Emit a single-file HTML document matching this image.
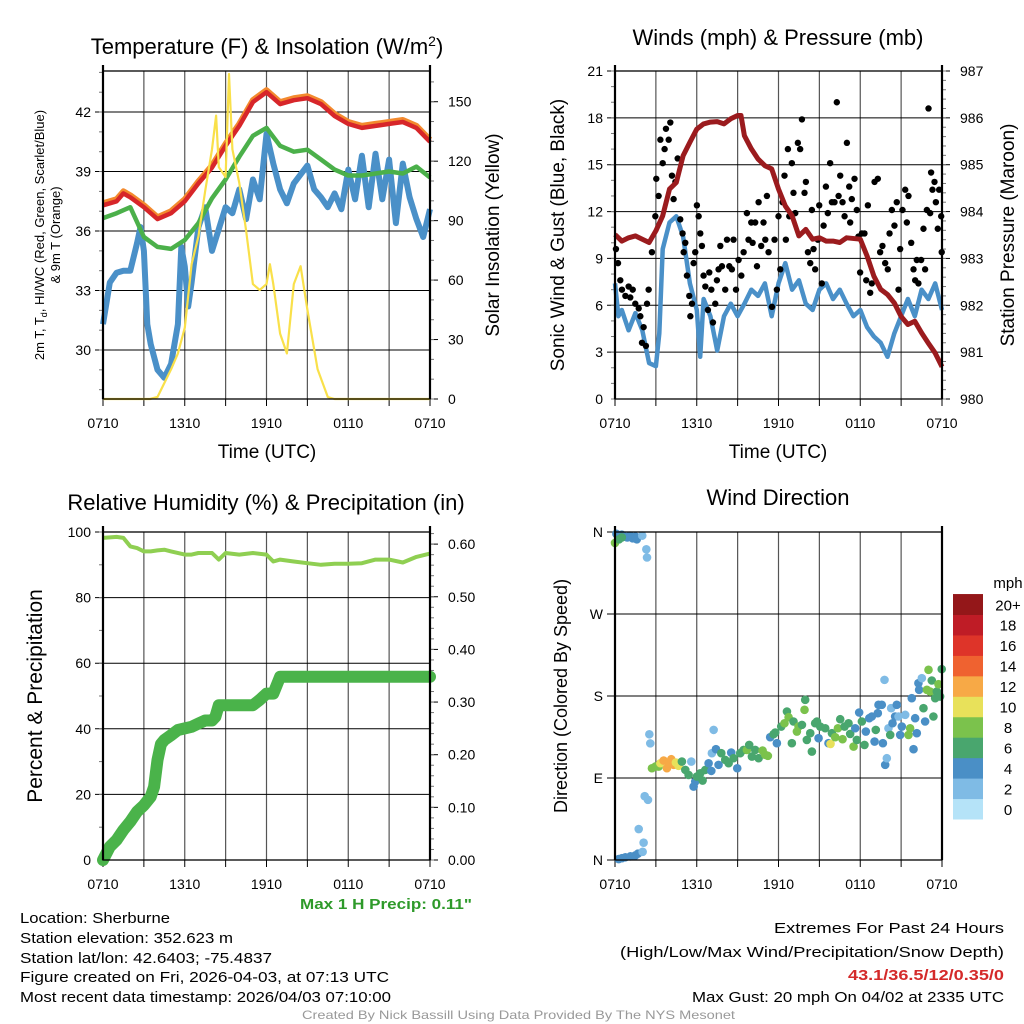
<!DOCTYPE html>
<html><head><meta charset="utf-8"><style>
html,body{margin:0;padding:0;background:#fff}
svg{display:block;font-family:"Liberation Sans",sans-serif}
</style></head><body>
<svg id="chart" width="1024" height="1024" viewBox="0 0 1024 1024" xmlns="http://www.w3.org/2000/svg">
<rect width="1024" height="1024" fill="#fff"/>
<g id="layer"></g>
<text x="267" y="54" font-size="22" text-anchor="middle">Temperature (F) &amp; Insolation (W/m<tspan dy="-8" font-size="14">2</tspan><tspan dy="8">)</tspan></text>
<text x="778" y="45" font-size="22" text-anchor="middle">Winds (mph) &amp; Pressure (mb)</text>
<text x="266" y="510" font-size="22" text-anchor="middle">Relative Humidity (%) &amp; Precipitation (in)</text>
<text x="778" y="505" font-size="22" text-anchor="middle">Wind Direction</text>
<text transform="translate(44,235) rotate(-90)" font-size="13" text-anchor="middle">2m T, T<tspan font-size="9" dy="3">d</tspan><tspan dy="-3">, HI/WC (Red, Green, Scarlet/Blue)</tspan></text>
<text transform="translate(60,235) rotate(-90)" font-size="13" text-anchor="middle">&amp; 9m T (Orange)</text>
<text transform="translate(499,235) rotate(-90)" font-size="19" text-anchor="middle">Solar Insolation (Yellow)</text>
<text transform="translate(564,235) rotate(-90)" font-size="19" text-anchor="middle">Sonic Wind &amp; Gust (Blue, Black)</text>
<text transform="translate(1014,235) rotate(-90)" font-size="19" text-anchor="middle">Station Pressure (Maroon)</text>
<text transform="translate(42,696) rotate(-90)" font-size="21" text-anchor="middle">Percent &amp; Precipitation</text>
<text transform="translate(567,696) rotate(-90)" font-size="18" text-anchor="middle">Direction (Colored By Speed)</text>
<text x="267" y="458" font-size="19" text-anchor="middle">Time (UTC)</text>
<text x="778" y="458" font-size="19" text-anchor="middle">Time (UTC)</text>
<text x="300" y="909" font-size="15" font-weight="bold" fill="#2e9a2a" textLength="172" lengthAdjust="spacingAndGlyphs">Max 1 H Precip: 0.11"</text>
<g font-size="15">
<text x="20" y="923" textLength="150" lengthAdjust="spacingAndGlyphs">Location: Sherburne</text>
<text x="20" y="943" textLength="213" lengthAdjust="spacingAndGlyphs">Station elevation: 352.623 m</text>
<text x="20" y="963" textLength="252" lengthAdjust="spacingAndGlyphs">Station lat/lon: 42.6403; -75.4837</text>
<text x="20" y="982" textLength="369" lengthAdjust="spacingAndGlyphs">Figure created on Fri, 2026-04-03, at 07:13 UTC</text>
<text x="20" y="1002" textLength="371" lengthAdjust="spacingAndGlyphs">Most recent data timestamp: 2026/04/03 07:10:00</text>
</g>
<g font-size="15">
<text x="774" y="933" textLength="230" lengthAdjust="spacingAndGlyphs">Extremes For Past 24 Hours</text>
<text x="620" y="957" textLength="384" lengthAdjust="spacingAndGlyphs">(High/Low/Max Wind/Precipitation/Snow Depth)</text>
<text x="848" y="980" fill="#d42a2a" font-weight="bold" textLength="156" lengthAdjust="spacingAndGlyphs">43.1/36.5/12/0.35/0</text>
<text x="692" y="1002" textLength="312" lengthAdjust="spacingAndGlyphs">Max Gust: 20 mph On 04/02 at 2335 UTC</text>
</g>
<text x="302" y="1019" font-size="12" fill="#999" textLength="433" lengthAdjust="spacingAndGlyphs">Created By Nick Bassill Using Data Provided By The NYS Mesonet</text>
</svg>
<script>
// ---- Panel 1 data ----
const tempHours = [0,1,1.5,2,3,4,5,6,7,8,9,10,11,12,13,14,15,16,17,18,19,20,21,22,23,24];
const tempRed = [37.3,37.5,37.9,37.7,37.2,36.6,36.9,37.5,38.4,39.2,40.3,41.3,42.5,43.0,42.4,42.6,42.7,42.4,41.8,41.4,41.2,41.3,41.4,41.5,41.2,40.5];
const tempOrange = [37.4,37.6,38.0,37.8,37.3,36.7,37.0,37.6,38.5,39.3,40.4,41.4,42.6,43.1,42.5,42.7,42.8,42.5,41.9,41.5,41.3,41.4,41.5,41.6,41.3,40.6];
const dewHours = [0,1,2,3,4,5,6,7,8,9,10,11,12,13,14,15,16,17,18,19,20,21,22,23,24];
const dewGreen = [36.65,36.9,37.2,35.7,35.2,35.1,35.55,36.4,37.65,38.6,39.75,40.8,41.2,40.3,40.0,40.1,39.6,39.1,38.8,38.8,38.9,39.0,38.9,39.25,38.7];
const hiHours = [0,0.5,1,1.5,2,2.5,2.75,3,3.25,3.5,4,4.5,5,5.5,5.75,6,6.25,6.5,7,7.5,8,8.5,9,9.5,10,10.5,11,11.5,12,12.5,13,13.5,14,15,15.5,16,16.5,17,17.5,18,18.5,19,19.5,20,20.5,21,21.5,22,22.5,23,23.5,24];
const hiBlue = [31.3,33.4,33.9,34.0,34.0,35.4,36.2,35.0,31.3,30.3,29.0,28.6,29.3,31.3,35.2,34.2,32.2,33.4,36.2,37.2,35.0,36.1,37.2,36.9,38.1,36.6,38.6,37.6,40.9,39.4,38.1,37.4,38.4,39.3,38.1,37.7,37.2,37.9,37.1,39.1,37.6,39.8,37.2,39.9,37.6,39.6,36.4,39.4,37.7,36.6,35.7,37.1];
const solarHours = [0,3.45,4,4.5,5,5.5,6,6.5,7,7.5,8,8.3,8.5,9,9.25,9.5,10,10.5,11,11.5,12,12.25,12.5,13,13.5,14,14.5,15,15.5,15.75,16.5,17,24];
const solarYellow = [0,0,1,8,15,23,36,68,82,105,126,143,117,112,164,126,109,85,58,55,58,68,58,33,23,58,67,45,25,15,1,0,0];
const tempTicks = [30,33,36,39,42];
const solarTicks = [0,30,60,90,120,150];
const timeTickLabels = ["0710","1310","1910","0110","0710"];
// ---- Panel 2 data ----
const presHours = [0,0.5,1,1.5,2,2.5,3,3.5,4,4.5,5,5.5,6,6.5,7,7.5,8,8.5,9,9.25,9.5,10,10.5,11,11.5,12,12.5,13,13.5,14,14.5,15,15.5,16,16.5,17,18,18.5,19,19.5,20,20.5,21,21.5,22,22.5,23,23.5,24];
const presMaroon = [983.51,983.37,983.44,983.48,983.41,983.34,983.59,983.91,984.48,984.62,985.19,985.48,985.76,985.87,985.91,985.92,985.87,985.98,986.05,986.05,985.62,985.34,985.12,984.98,984.91,984.48,984.12,983.91,983.48,983.62,983.41,983.44,983.37,983.37,983.34,983.44,983.41,983.05,982.62,982.34,982.23,982.05,981.76,981.59,981.66,981.41,981.19,980.98,980.69];
const windHours = [0,0.25,0.5,1,1.5,2,2.5,3,3.25,3.5,4,4.5,5,5.5,6,6.25,6.5,7,7.5,8,8.5,9,9.5,10,10.5,11,11.5,12,12.5,13,13.5,14,14.5,15,15.5,16,16.5,17,17.5,18,18.5,19,19.5,20,20.5,21,21.5,22,22.5,23,23.5,24];
const windBlue = [7.4,5.3,5.7,4.4,5.5,4.4,2.3,2.1,4.2,9.6,11.3,11.7,10.4,7.4,5.7,2.7,6.4,5.3,3.1,5.3,6.1,5.3,6.1,7.0,6.6,7.4,5.3,7.4,8.7,7.0,7.6,6.1,5.7,7.0,7.4,6.4,7.0,6.1,5.3,5.7,4.6,4.0,3.6,2.7,4.2,5.3,6.4,5.3,7.0,6.4,7.4,5.7];
const gustHours = [0.07,0.22,0.39,0.51,0.76,1.0,1.12,1.3,1.49,1.74,1.86,1.98,2.1,2.27,2.35,2.47,2.71,2.96,3.03,3.2,3.33,3.5,3.64,3.74,3.94,4.06,4.18,4.3,4.43,4.6,4.79,4.96,5.04,5.16,5.28,5.45,5.53,5.65,5.77,5.89,6.01,6.14,6.26,6.38,6.5,6.63,6.82,6.92,7.07,7.19,7.36,7.48,7.6,7.73,7.85,8.09,8.22,8.39,8.58,8.7,8.88,9.07,9.27,9.44,9.68,9.8,10.0,10.1,10.29,10.42,10.54,10.73,10.9,11.03,11.15,11.27,11.52,11.71,11.88,12.0,12.13,12.3,12.44,12.54,12.69,12.79,12.98,13.1,13.23,13.42,13.59,13.72,13.91,14.01,14.16,14.33,14.45,14.57,14.69,14.89,14.99,15.18,15.31,15.48,15.62,15.79,15.92,16.11,16.28,16.41,16.53,16.7,16.85,17.02,17.19,17.26,17.38,17.58,17.75,17.87,17.99,18.12,18.31,18.44,18.56,18.73,18.85,19.05,19.29,19.46,19.63,19.83,20.02,20.15,20.32,20.51,20.68,20.81,20.93,21.1,21.3,21.42,21.54,21.74,21.91,22.03,22.15,22.27,22.47,22.64,22.76,22.89,23.01,23.13,23.2,23.3,23.45,23.55,23.69,23.79,23.94,23.98];
const gustBlack = [9.6,8.7,7.6,7.0,6.6,7.2,6.5,7.0,6.1,5.8,5.3,3.6,4.6,3.4,6.1,7.0,9.4,11.7,14.1,13.0,16.6,15.1,16.0,17.3,16.6,17.7,14.3,12.8,13.9,15.4,11.5,10.6,9.4,10.0,7.9,6.6,5.3,6.1,8.7,9.4,12.4,11.7,10.6,9.8,7.9,7.2,5.7,8.1,7.0,4.9,6.1,7.6,8.3,9.8,8.5,7.0,10.2,8.5,8.3,10.2,7.0,8.9,7.9,9.4,11.9,10.2,11.3,10.0,11.3,8.5,12.6,9.8,11.3,10.2,13.0,9.4,5.9,10.2,7.0,11.7,8.3,12.6,14.3,10.2,16.0,11.7,15.1,13.2,11.9,16.4,16.0,17.9,13.2,13.9,9.4,8.7,12.1,9.6,8.3,10.2,12.4,7.4,11.1,13.6,11.9,15.1,12.6,12.6,19.0,13.0,14.3,12.6,11.7,16.4,13.6,11.3,12.8,14.1,12.1,10.4,8.1,10.6,10.6,7.6,12.4,6.8,7.4,13.9,14.1,9.4,9.8,8.7,8.3,10.6,12.1,11.1,12.6,7.0,9.6,12.1,13.4,11.3,13.0,10.0,8.3,7.6,8.9,7.4,8.9,10.9,8.3,12.1,18.6,11.9,14.5,13.4,13.9,12.6,10.9,13.4,11.7,9.4];
const windTicks = [0,3,6,9,12,15,18,21];
const presTicks = [980,981,982,983,984,985,986,987];
// ---- Panel 3 data ----
const rhHours = [0,1,1.5,2,2.5,3,3.5,4,4.5,5,6,6.5,7,8,8.5,9,10,11,12,12.5,13,14,15,16,17,18,19,20,21,22,23,24];
const rhValues = [98.2,98.5,98.2,95.6,95.1,94.1,94.1,94.4,94.6,94.1,93.1,93.1,93.6,93.6,91.6,93.6,93.1,93.6,93.1,91.0,91.6,91.0,90.5,90.0,90.3,90.3,90.5,91.6,91.6,90.7,92.4,93.4];
const precipHours = [0,0.5,1,1.5,2,2.5,3,3.5,3.75,4,4.25,4.5,5,5.5,6,6.5,7,7.5,8,8.25,8.5,9,10,11,11.5,12,12.5,12.75,13,13.5,24];
const precipValues = [0,0.025,0.038,0.057,0.073,0.092,0.104,0.12,0.139,0.19,0.22,0.228,0.237,0.247,0.25,0.253,0.259,0.265,0.265,0.272,0.294,0.294,0.294,0.294,0.304,0.316,0.316,0.332,0.348,0.348,0.348];
const pctTicks = [0,20,40,60,80,100];
const precipTicks = ["0.00","0.10","0.20","0.30","0.40","0.50","0.60"];
// ---- Panel 4 data ----
const dirHours = [0.1,0.3,0.5,0.7,0.9,1.1,1.3,1.5,1.6,0.0,0.3,0.5,2.0,2.3,2.35,0.27,0.51,0.76,1.13,1.49,1.69,2.03,2.1,1.74,2.18,2.42,2.52,2.59,2.71,2.96,3.2,3.33,3.57,3.81,3.94,4.13,4.3,4.47,4.67,4.91,5.16,5.4,5.6,5.77,5.89,6.01,6.26,6.43,6.63,6.87,7.07,7.11,7.24,7.41,7.6,7.8,8.09,8.34,8.53,8.7,8.97,9.19,9.44,9.68,9.85,10.05,10.29,10.54,10.83,11.03,11.22,11.39,11.64,11.76,11.88,12.2,12.44,12.62,12.74,12.98,13.1,13.35,13.47,13.72,13.91,13.96,14.08,14.33,14.45,14.69,14.82,14.94,15.06,15.43,15.67,15.82,15.92,16.16,16.36,16.53,16.7,16.85,17.14,17.26,17.51,17.63,17.75,17.92,18.12,18.31,18.41,18.66,18.85,19.05,19.14,19.29,19.34,19.58,19.66,19.78,19.83,19.95,20.07,20.2,20.27,20.37,20.56,20.68,20.81,20.93,21.05,21.3,21.54,21.66,21.78,21.91,22.03,22.15,22.27,22.32,22.52,22.64,22.76,22.89,23.01,23.13,23.25,23.37,23.5,23.62,23.74,23.86,23.98];
const dirDegrees = [358,356,357,355,354,356,353,355,352,348,352,354,356,341,332,1,2,3,4,5,7,9,19,34,70,66,138,128,100.7,102.5,102.5,106.2,109.1,100.7,106.2,110.6,104.4,106.9,103.3,108.0,98.9,93.4,108.0,80.6,86.1,91.6,95.2,87.2,98.9,106.2,97.8,117.2,142.8,121.6,104.4,117.2,109.9,106.2,117.9,111.7,100.7,117.2,120.8,120.8,126.3,113.5,120.8,111.7,120.1,115.4,114.3,134.8,138.1,139.9,128.2,146.5,150.1,163.0,156.7,128.2,152.0,141.0,146.5,148.3,164.8,175.8,131.8,139.2,119.0,150.1,152.0,133.7,146.5,144.6,128.2,127.4,139.2,134.8,144.6,154.5,132.6,146.5,150.1,138.4,124.5,144.6,131.8,161.9,152.0,126.3,141.0,155.6,157.5,130.0,142.8,161.1,170.3,170.3,128.2,197.7,104.4,111.7,144.6,137.3,166.6,150.1,157.5,170.3,157.5,137.3,146.5,159.3,137.3,144.6,177.6,121.6,155.6,139.2,194.1,186.8,199.6,166.6,152.0,186.8,208.7,184.9,197.0,157.5,177.6,184.9,193.0,179.4,209.5];
const dirSpeeds = [4,4,4,4,4,4,4,4,4,7,6,6,2,2,2,3,3,3,3,4,3,2,2,2,2,2,2,2,8,7,8,10,12,12,12,12,12,10,10,6,6,5,2,4,4,6,6,6,6,4,4,2,2,4,4,6,6,6,4,6,4,6,6,8,6,6,6,6,8,8,8,4,5,6,4,6,8,6,8,6,6,8,8,6,8,6,6,6,6,6,6,4,6,6,4,10,6,8,8,6,8,6,6,6,8,4,6,4,6,6,4,4,4,4,6,4,3,3,4,2,4,2,2,6,2,4,4,4,2,4,4,2,8,8,4,4,4,4,4,4,2,6,4,8,8,8,6,6,6,6,8,6,6];
const dirTicks = ["N","E","S","W","N"];
const speedLabels = ["0","2","4","6","8","10","12","14","16","18","20+"];
const speedColors = ["#b5e3f8","#7fbbe5","#4a8fc6","#49a66e","#7bc24c","#e8e15a","#f7a946","#ef6230","#de3429","#bf1c26","#941719"];

const NS="http://www.w3.org/2000/svg";
const layer=document.getElementById('layer');
function mk(tag,attrs,parent){const e=document.createElementNS(NS,tag);for(const k in attrs)e.setAttribute(k,attrs[k]);(parent||layer).appendChild(e);return e;}
function lin(d0,d1,r0,r1){return v=>r0+(v-d0)/(d1-d0)*(r1-r0);}

const P1={x0:103,x1:430,y0:71,y1:399}, P2={x0:615,x1:942,y0:71,y1:399}, P3={x0:103,x1:430,y0:532,y1:860}, P4={x0:615,x1:942,y0:532,y1:860};

function frame(P,name){
  const xs=lin(0,24,P.x0,P.x1);
  for(let h=3;h<24;h+=3){const l=mk('line',{x1:xs(h),x2:xs(h),y1:P.y0,y2:P.y1,stroke:'#555','stroke-width':1.2});
    
    }
  for(let h=0;h<=24;h+=3){const t=mk('line',{x1:xs(h),x2:xs(h),y1:P.y1,y2:P.y1+7,stroke:'#000','stroke-width':1});
    
    }
  timeTickLabels.forEach((s,i)=>{const t=mk('text',{x:xs(i*6),y:P.y1+29,'font-size':14,'text-anchor':'middle'});t.textContent=s;
    
    });
  return xs;
}
function hgrid(P,ys,vals,name){vals.forEach(v=>{const l=mk('line',{x1:P.x0-8,x2:P.x1,y1:ys(v),y2:ys(v),stroke:'#000','stroke-width':1});
  
  });}
function leftLabels(P,ys,vals,labels,name){vals.forEach((v,i)=>{const t=mk('text',{x:P.x0-12,y:ys(v)+5,'font-size':14,'text-anchor':'end'});t.textContent=labels?labels[i]:String(v);
  
  });}
function rightAxis(P,ys,vals,labels,minorStep,d0,d1,name){
  vals.forEach((v,i)=>{mk('line',{x1:P.x1,x2:P.x1+8,y1:ys(v),y2:ys(v),stroke:'#000','stroke-width':1});
    const t=mk('text',{x:P.x1+18,y:ys(v)+5,'font-size':14});t.textContent=labels?labels[i]:String(v);
    
    });
  for(let v=d0;v<=d1+1e-9;v+=minorStep){mk('line',{x1:P.x1,x2:P.x1+4,y1:ys(v),y2:ys(v),stroke:'#777','stroke-width':1});}
}
function leftMinor(P,ys,d0,d1,step){for(let v=d0;v<=d1+1e-9;v+=step){mk('line',{x1:P.x0-4,x2:P.x0,y1:ys(v),y2:ys(v),stroke:'#777','stroke-width':1});}}
function pathFrom(xs,ys,hs,vs){return hs.map((h,i)=>(i?'L':'M')+xs(h).toFixed(1)+','+ys(vs[i]).toFixed(1)).join(' ');}
function border(P,name){const r=mk('rect',{x:P.x0,y:P.y0,width:P.x1-P.x0,height:P.y1-P.y0,fill:'none',stroke:'#000','stroke-width':1.3});
  
  
  mk('line',{x1:P.x0,x2:P.x0,y1:P.y0-6,y2:P.y1,stroke:'#000','stroke-width':2.2});
  mk('line',{x1:P.x1,x2:P.x1,y1:P.y0-6,y2:P.y1,stroke:'#000','stroke-width':2.2});}

// Panel 1
{const P=P1;const xs=frame(P,'temp');const yT=lin(27.53,44.07,P.y1,P.y0);const yS=lin(0,165.5,P.y1,P.y0);
 hgrid(P,yT,tempTicks,'temp');leftLabels(P,yT,tempTicks,null,'temp');leftMinor(P,yT,28,44,1);
 rightAxis(P,yS,solarTicks,null,10,0,160,'solar');
 const g=mk('g',{});
 const a=mk('path',{d:pathFrom(xs,yT,hiHours,hiBlue),fill:'none',stroke:'#4a90c8','stroke-width':6,'stroke-linejoin':'round'},g);
 
 
 const b=mk('path',{d:pathFrom(xs,yT,dewHours,dewGreen),fill:'none',stroke:'#4bb04a','stroke-width':4.5,'stroke-linejoin':'round'},g);
 
 
 const c=mk('path',{d:pathFrom(xs,yT,tempHours,tempOrange),fill:'none',stroke:'#f38a2e','stroke-width':6,'stroke-linejoin':'round'},g);
 
 
 const d=mk('path',{d:pathFrom(xs,yT,tempHours,tempRed),fill:'none',stroke:'#d7262a','stroke-width':4.5,'stroke-linejoin':'round'},g);
 
 
 const e=mk('path',{d:pathFrom(xs,yS,solarHours,solarYellow),fill:'none',stroke:'#f9e04a','stroke-width':2.2,'stroke-linejoin':'round'},g);
 
 
 border(P,'temp');}

// Panel 2
{const P=P2;const xs=frame(P,'wind');const yW=lin(0,21,P.y1,P.y0);const yP=lin(980,987,P.y1,P.y0);
 hgrid(P,yW,windTicks.slice(1),'wind');leftLabels(P,yW,windTicks,null,'wind');leftMinor(P,yW,0,21,1);
 rightAxis(P,yP,presTicks,null,0.2,980,987,'pressure');
 const a=mk('path',{d:pathFrom(xs,yW,windHours,windBlue),fill:'none',stroke:'#4a90c8','stroke-width':4.5,'stroke-linejoin':'round'});
 
 
 gustHours.forEach((h,i)=>{const c=mk('circle',{cx:xs(h),cy:yW(gustBlack[i]),r:3.2,fill:'#000'});
   
   });
 const b=mk('path',{d:pathFrom(xs,yP,presHours,presMaroon),fill:'none',stroke:'#9b1b1e','stroke-width':5,'stroke-linejoin':'round'});
 
 
 border(P,'wind');}

// Panel 3
{const P=P3;const xs=frame(P,'rh');const yR=lin(0,100,P.y1,P.y0);const yQ=lin(0,0.623,P.y1,P.y0);
 hgrid(P,yR,pctTicks.slice(1),'rh');leftLabels(P,yR,pctTicks,null,'rh');leftMinor(P,yR,0,100,10);
 rightAxis(P,yQ,precipTicks.map(Number),precipTicks,0.02,0,0.62,'precip');
 const a=mk('path',{d:pathFrom(xs,yR,rhHours,rhValues),fill:'none',stroke:'#8fcf52','stroke-width':4,'stroke-linejoin':'round'});
 
 
 const b=mk('path',{d:pathFrom(xs,yQ,precipHours,precipValues),fill:'none',stroke:'#4ab34a','stroke-width':12,'stroke-linejoin':'round','stroke-linecap':'round'});
 
 
 border(P,'rh');}

// Panel 4
{const P=P4;const xs=frame(P,'dir');const yD=lin(0,360,P.y1,P.y0);
 const degs=[0,90,180,270,360];
 hgrid(P,yD,degs,'dir');leftLabels(P,yD,degs,dirTicks,'dir');
 dirHours.forEach((h,i)=>{const idx=Math.min(10,Math.round(dirSpeeds[i]/2));
   const c=mk('circle',{cx:xs(h),cy:yD(dirDegrees[i]),r:4.3,fill:speedColors[idx]});
   
   });
 border(P,'dir');
 const cb=mk('g',{});
 
 
 const h=20.45;
 speedLabels.forEach((s,i)=>{const y=819-(i+1)*h;
   const r=mk('rect',{x:953,y:y,width:30,height:h+0.5,fill:speedColors[i]},cb);
   
   
   const t=mk('text',{x:1008,y:y+h/2+6,'font-size':15,'text-anchor':'middle'},cb);t.textContent=s;
   
   });
 const u=mk('text',{x:1008,y:588,'font-size':15,'text-anchor':'middle'},cb);u.textContent='mph';
 
 }
</script>
</body></html>
